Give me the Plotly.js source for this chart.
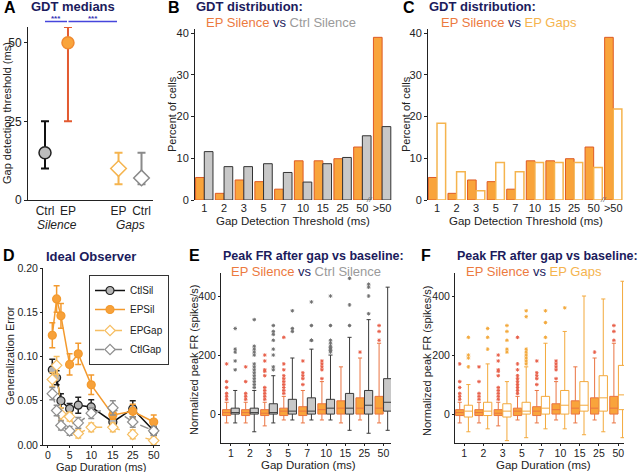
<!DOCTYPE html>
<html><head><meta charset="utf-8">
<script src="https://cdn.plot.ly/plotly-3.0.1.min.js"></script>
<style>html,body{margin:0;padding:0;background:#fff}#chart{width:640px;height:472px}</style>
</head><body><div id="chart"></div>
<script>
// ---------- DATA ----------
// Panel A: GDT medians
const aConditions = ['Ctrl', 'EP', 'EP', 'Ctrl'];
const aGroups = ['Silence', 'Silence', 'Gaps', 'Gaps'];
const aMedian = [15, 50, 10, 7];
const aLower = [10, 25, 5, 5];
const aUpper = [25, 55, 15, 15];

// Panels B, C: GDT distribution (% of cells)
const gdtCats = ['1', '2', '3', '5', '7', '10', '15', '25', '50', '>50'];
const epSilPct = [5.4, 1.6, 4.8, 4.4, 2.6, 9.4, 9.4, 9.9, 12.7, 39.0];
const ctrlSilPct = [11.6, 8.0, 8.0, 8.7, 6.6, 4.3, 8.7, 10.2, 15.4, 17.6];
const epGapPct = [18.4, 6.8, 2.2, 9.0, 6.8, 9.0, 9.0, 9.0, 7.8, 21.8];

// Panel D: Ideal observer
const durations = [1, 2, 3, 5, 7, 10, 15, 25, 50];
const ctlSilErr = [0.085, 0.076, 0.050, 0.041, 0.045, 0.043, 0.026, 0.041, 0.016];
const ctlSilSem = [0.012, 0.008, 0.008, 0.006, 0.009, 0.008, 0.005, 0.009, 0.005];
const epSilErr = [0.124, 0.165, 0.146, 0.091, 0.103, 0.068, 0.034, 0.038, 0.026];
const epSilSem = [0.014, 0.015, 0.014, 0.012, 0.012, 0.011, 0.005, 0.008, 0.008];
const epGapErr = [0.074, 0.090, 0.035, 0.032, 0.013, 0.020, 0.020, 0.012, 0.005];
const epGapSem = [0.008, 0.010, 0.007, 0.005, 0.005, 0.005, 0.005, 0.005, 0.004];
const ctlGapErr = [0.058, 0.039, 0.022, 0.016, 0.025, 0.036, 0.042, 0.026, 0.016];
const ctlGapSem = [0.007, 0.006, 0.005, 0.005, 0.006, 0.006, 0.008, 0.006, 0.005];
const dTickVals = [0, 5, 10, 15, 25, 50];

// Panels E, F: box stats (normalized peak FR, spikes/s)
const boxCats = ['1', '2', '3', '5', '7', '10', '15', '25', '50'];
const epSilQ1 = [-5, -5, -5, -5, -5, 0, 0, 0, 0];
const epSilMed = [5, 5, 3, 10, 10, 15, 20, 20, 20];
const epSilQ3 = [15, 15, 15, 20, 25, 35, 45, 55, 60];
const epSilLo = [-30, -30, -40, -20, -30, -20, -30, -20, -30];
const epSilHi = [40, 40, 40, 60, 80, 110, 160, 190, 240];
const epSilOutCat = ['1','1','1','1','1','1','2','2','2','2','2','3','3','3','3','3','3','3','3','3','3','5','5','5','5','5','5','5','5','5','5','7','7','7','7','7','10','10','10','10','10','25','50','50','50'];
const epSilOutVal = [50,60,70,90,110,170,50,60,70,110,160,50,60,70,80,90,130,145,150,180,200,70,80,90,100,110,120,130,150,170,260,100,120,130,140,180,120,150,160,170,180,210,250,280,300];

const ctlSilQ1 = [0, 0, 0, 0, 0, 0, 0, 0, 10];
const ctlSilMed = [5, 5, 5, 10, 10, 20, 20, 30, 40];
const ctlSilQ3 = [20, 20, 35, 50, 55, 50, 70, 80, 120];
const ctlSilLo = [-30, -60, -30, -20, -20, -20, -55, -65, -55];
const ctlSilHi = [80, 80, 130, 190, 220, 200, 260, 320, 430];
const ctlSilOutCat = ['1','1','1','1','1','2','2','2','2','2','2','2','2','2','2','2','2','2','2','3','3','3','3','3','3','3','3','5','5','5','7','7','7','7','10','10','10','10','10','10','10','10','10','15','15','15','25','25','25','25'];
const ctlSilOutVal = [150,180,210,220,290,90,100,110,120,130,140,150,160,170,200,210,220,230,320,150,160,200,220,250,270,280,300,280,290,350,250,250,300,380,210,215,220,225,230,240,250,300,400,300,370,460,340,400,430,440];

const epGapQ1 = [-10, -5, -10, 0, 0, 0, 10, 10, 15];
const epGapMed = [10, 10, 10, 10, 20, 30, 30, 55, 65];
const epGapQ3 = [30, 40, 35, 40, 60, 80, 110, 130, 165];
const epGapLo = [-60, -50, -90, -80, -50, -50, -70, -60, -80];
const epGapHi = [100, 170, 110, 160, 240, 280, 400, 390, 450];
const epGapOutCat = ['1','1','1','1','2','2','2','3','3','3','3','3','5','5','5','5','5','5','5','5','7','7','7','10'];
const epGapOutVal = [160,190,200,260,220,260,290,210,220,250,280,300,170,180,190,200,210,220,330,350,260,310,350,360];

// ---------- STYLE ----------
const W = 640, H = 472;
const FONT = 'Liberation Sans, Arial, sans-serif';
const NAVY = '#1b1b5c';
const OR_FILL = '#F9A43B', OR_LINE = '#DE5A24', OR_TXT = '#EC7A3F';
const GR_FILL = '#C8C8C8', GR_LINE = '#333333', GR_TXT = '#9a9a9a';
const LT_OR = '#F5B44E';
const px = x => x / W;
const py = y => 1 - y / H;

// compressed axis for panel D (linear to 15, then broken scale)
const dAxisPos = d => d <= 15 ? d : (d === 25 ? 19.6 : 24.45);

const traces = [];

// ---- Panel A ----
const aStyles = [
  {sym: 'circle', fill: '#BDBDBD', line: '#222', err: '#111'},
  {sym: 'circle', fill: OR_FILL, line: '#F08A30', err: '#E35A30'},
  {sym: 'diamond', fill: '#ffffff', line: LT_OR, err: LT_OR},
  {sym: 'diamond', fill: '#ffffff', line: '#8a8a8a', err: '#8a8a8a'}
];
const aPos = aConditions.map((c, i) => i + (aGroups[i] === 'Gaps' ? 1.2 : 0));
aMedian.forEach((m, i) => {
  traces.push({
    type: 'scatter', mode: 'markers', xaxis: 'x', yaxis: 'y', showlegend: false,
    x: [aPos[i]], y: [m],
    error_y: {type: 'data', symmetric: false, array: [aUpper[i] - m], arrayminus: [m - aLower[i]],
      color: aStyles[i].err, thickness: 2, width: 4},
    marker: {symbol: aStyles[i].sym, size: 12, color: aStyles[i].fill, line: {color: aStyles[i].line, width: 1.5}},
    cliponaxis: false
  });
});

// ---- Panel B ----
traces.push({type: 'bar', x: gdtCats, y: epSilPct, xaxis: 'x2', yaxis: 'y2', showlegend: false,
  marker: {color: OR_FILL, line: {color: OR_LINE, width: 1}}});
traces.push({type: 'bar', x: gdtCats, y: ctrlSilPct, xaxis: 'x2', yaxis: 'y2', showlegend: false,
  marker: {color: GR_FILL, line: {color: GR_LINE, width: 1}}});
// ---- Panel C ----
traces.push({type: 'bar', x: gdtCats, y: epSilPct, xaxis: 'x3', yaxis: 'y3', showlegend: false,
  marker: {color: OR_FILL, line: {color: OR_LINE, width: 1}}});
traces.push({type: 'bar', x: gdtCats, y: epGapPct, xaxis: 'x3', yaxis: 'y3', showlegend: false,
  marker: {color: '#ffffff', line: {color: LT_OR, width: 1.5}}});

// ---- Panel D ----
const dX = durations.map(dAxisPos);
function dTrace(name, y, e, color, lineColor, dash, sym, fill, grp) {
  return {type: 'scatter', mode: 'lines+markers', name: name, legendgroup: grp,
    x: dX, y: y, xaxis: 'x4', yaxis: 'y4',
    line: {color: lineColor, width: 1.5, dash: dash},
    marker: {symbol: sym, size: 8, color: fill, line: {color: color, width: 1.2}},
    error_y: {type: 'data', array: e, color: color, thickness: 1.5, width: 3},
    cliponaxis: false};
}
traces.push(dTrace('CtlSil', ctlSilErr, ctlSilSem, '#222', '#111', 'solid', 'circle', '#B5B5B5', 'sil'));
traces.push(dTrace('EPSil', epSilErr, epSilSem, '#F39A2E', '#F39A2E', 'solid', 'circle', '#F7A13A', 'sil'));
traces.push(dTrace('EPGap', epGapErr, epGapSem, '#F6BE62', '#F6BE62', 'dash', 'diamond', '#ffffff', 'gap'));
traces.push(dTrace('CtlGap', ctlGapErr, ctlGapSem, '#8f8f8f', '#8f8f8f', 'dash', 'diamond', '#ffffff', 'gap'));

// ---- Panels E, F: boxes ----
const OFF = 0.225, BW = 0.43;
const catIdx = c => boxCats.indexOf(c);
function boxTrace(xa, ya, q1, med, q3, lo, hi, off, fill, line) {
  return {type: 'box', xaxis: xa, yaxis: ya, showlegend: false,
    x: boxCats.map((c, i) => i + off), q1: q1, median: med, q3: q3, lowerfence: lo, upperfence: hi,
    width: BW, whiskerwidth: 0.5, boxpoints: false,
    fillcolor: fill, line: {color: line, width: 1}};
}
function outTrace(xa, ya, cats, vals, off, color) {
  return {type: 'scatter', mode: 'markers', xaxis: xa, yaxis: ya, showlegend: false,
    x: cats.map(c => catIdx(c) + off), y: vals,
    marker: {symbol: 'asterisk-open', size: 3, color: color, line: {color: color, width: 1}}};
}
traces.push(boxTrace('x5', 'y5', epSilQ1, epSilMed, epSilQ3, epSilLo, epSilHi, -OFF, OR_FILL, '#EA7442'));
traces.push(boxTrace('x5', 'y5', ctlSilQ1, ctlSilMed, ctlSilQ3, ctlSilLo, ctlSilHi, OFF, GR_FILL, '#3a3a3a'));
traces.push(outTrace('x5', 'y5', epSilOutCat, epSilOutVal, -OFF, '#E8604A'));
traces.push(outTrace('x5', 'y5', ctlSilOutCat, ctlSilOutVal, OFF, '#707070'));
traces.push(boxTrace('x6', 'y6', epSilQ1, epSilMed, epSilQ3, epSilLo, epSilHi, -OFF, OR_FILL, '#EA7442'));
traces.push(boxTrace('x6', 'y6', epGapQ1, epGapMed, epGapQ3, epGapLo, epGapHi, OFF, '#ffffff', '#F3A93C'));
traces.push(outTrace('x6', 'y6', epSilOutCat, epSilOutVal, -OFF, '#E8604A'));
traces.push(outTrace('x6', 'y6', epGapOutCat, epGapOutVal, OFF, '#F3A93C'));

// ---------- AXES ----------
const tickFont = s => ({family: FONT, size: s, color: '#222'});
const baseAx = {showgrid: false, zeroline: false, showline: true, linecolor: '#222', linewidth: 1,
  ticks: 'outside', ticklen: 3, tickcolor: '#222', tickwidth: 1, fixedrange: true};
const botX = {ticklen: 2, ticklabelstandoff: -2, tickfont: tickFont(10.5)};

const layout = {
  width: W, height: H, margin: {l: 0, r: 0, t: 0, b: 0},
  paper_bgcolor: '#fff', plot_bgcolor: 'rgba(0,0,0,0)',
  font: {family: FONT, size: 11, color: '#222'},
  barmode: 'group', bargap: 0.12, bargroupgap: 0, boxmode: 'overlay',
  xaxis: Object.assign({}, baseAx, {domain: [px(28), px(153)], range: [-0.74, 4.7],
    tickvals: aPos, ticktext: aConditions, ticks: '', tickfont: tickFont(12)}),
  yaxis: Object.assign({}, baseAx, {domain: [py(200), py(27)], range: [0, 55],
    tickvals: [0, 25, 50], tickfont: tickFont(12)}),
  xaxis2: Object.assign({}, baseAx, {domain: [px(195), px(392)], type: 'category', range: [-0.47, 9.5],
    showline: false, ticks: '', tickfont: tickFont(11), anchor: 'y2'}),
  yaxis2: Object.assign({}, baseAx, {domain: [py(200), py(29)], range: [0, 41], tickvals: [0, 10, 20, 30, 40],
    tickfont: tickFont(11), anchor: 'x2'}),
  xaxis3: Object.assign({}, baseAx, {domain: [px(428), px(625)], type: 'category', range: [-0.46, 9.6],
    showline: false, ticks: '', tickfont: tickFont(11), anchor: 'y3'}),
  yaxis3: Object.assign({}, baseAx, {domain: [py(200), py(29)], range: [0, 41], tickvals: [0, 10, 20, 30, 40],
    tickfont: tickFont(11), anchor: 'x3'}),
  xaxis4: Object.assign({}, baseAx, botX, {domain: [px(43), px(160)], range: [-1.15, 25.9],
    tickvals: dTickVals.map(dAxisPos), ticktext: dTickVals.map(String), anchor: 'y4'}),
  yaxis4: Object.assign({}, baseAx, {domain: [py(445), py(268)], range: [0, 0.2], ticklen: 2,
    tickvals: [0, 0.05, 0.1, 0.15, 0.2], tickformat: '.2f', tickfont: tickFont(10.5), anchor: 'x4'}),
  xaxis5: Object.assign({}, baseAx, botX, {domain: [px(221), px(391)], range: [-0.52, 8.4],
    tickvals: boxCats.map((c, i) => i), ticktext: boxCats, anchor: 'y5'}),
  yaxis5: Object.assign({}, baseAx, {domain: [py(443), py(273)], range: [-98, 478], tickvals: [0, 200, 400], ticklen: 2,
    tickfont: tickFont(10.5), anchor: 'x5'}),
  xaxis6: Object.assign({}, baseAx, botX, {domain: [px(455), px(624)], range: [-0.47, 8.3],
    tickvals: boxCats.map((c, i) => i), ticktext: boxCats, anchor: 'y6'}),
  yaxis6: Object.assign({}, baseAx, {domain: [py(443), py(273)], range: [-98, 478], tickvals: [0, 200, 400], ticklen: 2,
    tickfont: tickFont(10.5), anchor: 'x6'}),
  legend: {x: px(89), y: py(275), xanchor: 'left', yanchor: 'top', bgcolor: '#fff',
    bordercolor: '#333', borderwidth: 1, font: {family: FONT, size: 10, color: '#222'},
    traceorder: 'grouped', tracegroupgap: 2, itemwidth: 30},
  shapes: [
    {type: 'line', xref: 'paper', yref: 'paper', x0: px(45), x1: px(67), y0: py(21.5), y1: py(21.5), line: {color: '#4646dc', width: 1.5}},
    {type: 'line', xref: 'paper', yref: 'paper', x0: px(68.5), x1: px(117), y0: py(21.5), y1: py(21.5), line: {color: '#4646dc', width: 1.5}}
  ],
  annotations: []
};

function ann(text, x, y, opts) {
  layout.annotations.push(Object.assign({text: text, xref: 'paper', yref: 'paper', x: px(x), y: py(y),
    showarrow: false, xanchor: 'left', yanchor: 'middle', font: {family: FONT, size: 11, color: '#222'}}, opts || {}));
}
const bold = (s, c) => ({family: FONT, size: s, color: c});
// panel letters
ann('<b>A</b>', 2, 8, {font: bold(16, '#000')});
ann('<b>B</b>', 166, 8, {font: bold(16, '#000')});
ann('<b>C</b>', 401, 8, {font: bold(16, '#000')});
ann('<b>D</b>', 1, 255, {font: bold(16, '#000')});
ann('<b>E</b>', 187, 255, {font: bold(16, '#000')});
ann('<b>F</b>', 419, 255, {font: bold(16, '#000')});
// titles
ann('<b>GDT medians</b>', 29, 7, {font: bold(13, NAVY)});
ann('<b>GDT distribution:</b>', 194, 7, {font: bold(13, NAVY)});
ann('<span style="color:' + OR_TXT + '">EP Silence</span> vs <span style="color:' + GR_TXT + '">Ctrl Silence</span>', 204, 23, {font: {family: FONT, size: 13, color: NAVY}});
ann('<b>GDT distribution:</b>', 427, 7, {font: bold(13, NAVY)});
ann('<span style="color:' + OR_TXT + '">EP Silence</span> vs <span style="color:' + LT_OR + '">EP Gaps</span>', 439, 23, {font: {family: FONT, size: 13, color: NAVY}});
ann('<b>Ideal Observer</b>', 44, 256, {font: bold(13, NAVY)});
ann('<b>Peak FR after gap vs baseline:</b>', 221, 256, {font: bold(12.5, NAVY)});
ann('<span style="color:' + OR_TXT + '">EP Silence</span> vs <span style="color:' + GR_TXT + '">Ctrl Silence</span>', 229, 271, {font: {family: FONT, size: 13, color: NAVY}});
ann('<b>Peak FR after gap vs baseline:</b>', 455, 256, {font: bold(12.5, NAVY)});
ann('<span style="color:' + OR_TXT + '">EP Silence</span> vs <span style="color:' + LT_OR + '">EP Gaps</span>', 464, 271, {font: {family: FONT, size: 13, color: NAVY}});
// significance stars
ann('<b>***</b>', 56, 18.5, {xanchor: 'center', font: bold(8, '#3535b5')});
ann('<b>***</b>', 93, 18.5, {xanchor: 'center', font: bold(8, '#3535b5')});
// group labels panel A
ann('<i>Silence</i>', 57, 225, {xanchor: 'center', font: {family: FONT, size: 12, color: '#222'}});
ann('<i>Gaps</i>', 130, 225, {xanchor: 'center', font: {family: FONT, size: 12, color: '#222'}});
// axis titles
const yt = (t, x, y) => ann(t, x, y, {xanchor: 'center', textangle: -90, font: {family: FONT, size: 11, color: '#222'}});
const xt = (t, x, y, s) => ann(t, x, y, {xanchor: 'center', font: {family: FONT, size: s || 11.5, color: '#222'}});
yt('Gap detection threshold (ms)', 7, 113);
yt('Percent of cells', 172, 114);
yt('Percent of cells', 406, 114);
yt('Generalization Error', 10, 356);
yt('Normalized peak FR (spikes/s)', 194, 360);
yt('Normalized peak FR (spikes/s)', 427, 361);
xt('Gap Detection Threshold (ms)', 293, 221);
xt('Gap Detection Threshold (ms)', 526, 221);
xt('Gap Duration (ms)', 101, 466.5, 11);
xt('Gap Duration (ms)', 308, 465);
xt('Gap Duration (ms)', 543, 465);
// axis-break marks in B and C
ann('<i>//</i>', 369, 199, {xanchor: 'center', font: {family: FONT, size: 8, color: '#666'}});
ann('<i>//</i>', 603, 199, {xanchor: 'center', font: {family: FONT, size: 8, color: '#666'}});

Plotly.newPlot('chart', traces, layout, {staticPlot: true, displayModeBar: false});
</script></body></html>
